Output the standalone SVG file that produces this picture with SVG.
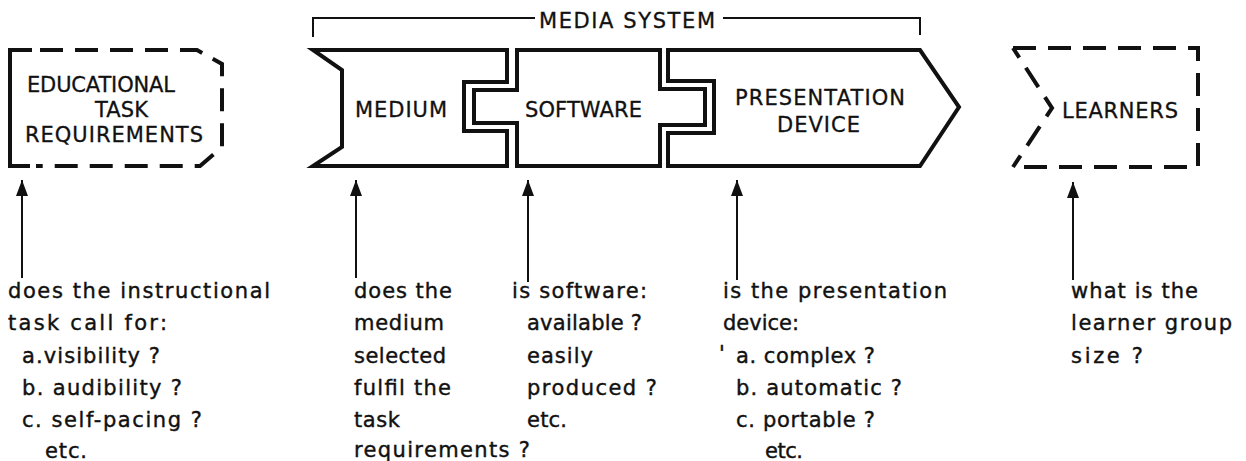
<svg xmlns="http://www.w3.org/2000/svg" width="1246" height="461" viewBox="0 0 1246 461">
<style>
.solid{fill:none;stroke:#111;stroke-width:4;stroke-linejoin:miter}
.dash{fill:none;stroke:#111;stroke-width:4;stroke-dasharray:23 12}
.thin{fill:none;stroke:#111;stroke-width:2}
.lbl{font-family:"DejaVu Sans","Liberation Sans",sans-serif;font-size:21px;fill:#111;stroke:#111;stroke-width:0.3}
.txt{font-family:"DejaVu Sans","Liberation Sans",sans-serif;font-size:21px;fill:#111;stroke:#111;stroke-width:0.4}
.arr{stroke:#111;stroke-width:2;fill:none}
</style>
<defs>
<marker id="ah" viewBox="0 0 16 12" refX="16" refY="6" markerWidth="16" markerHeight="12" markerUnits="userSpaceOnUse" orient="auto">
<path d="M0,0 L16,6 L0,12 Z" fill="#111"/>
</marker>
</defs>
<rect width="1246" height="461" fill="#fff"/>

<g id="media-system">
<path class="thin" d="M313 37 V18 H535 M723 18 H920 V35"/>
<text class="lbl" x="539" y="28" textLength="176" lengthAdjust="spacing">MEDIA SYSTEM</text>
</g>

<g id="educational">
<path class="solid" d="M32 50 H10 V166 H30"/>
<path class="dash" d="M40 50 H197 L222 64 V147 L200 166 H36"/>
<text class="lbl" x="27" y="92" textLength="148" lengthAdjust="spacing">EDUCATIONAL</text>
<text class="lbl" x="95" y="117" textLength="53" lengthAdjust="spacing">TASK</text>
<text class="lbl" x="25" y="142" textLength="178" lengthAdjust="spacing">REQUIREMENTS</text>
</g>

<g id="medium">
<path class="solid" d="M313 50 H507 V82 H464 V131 H507 V166 H313 L342 147 V70 Z"/>
<text class="lbl" x="355" y="117" textLength="92" lengthAdjust="spacing">MEDIUM</text>
</g>

<g id="software">
<path class="solid" d="M517 50 H660 V89 H705 V125 H660 V166 H517 V123 H474 V90 H517 Z"/>
<text class="lbl" x="525" y="117" textLength="117" lengthAdjust="spacing">SOFTWARE</text>
</g>

<g id="presentation">
<path class="solid" d="M668 50 H920 L959 107 L920 166 H668 V133 H714 V81 H668 Z"/>
<text class="lbl" x="735" y="105" textLength="170" lengthAdjust="spacing">PRESENTATION</text>
<text class="lbl" x="777" y="132" textLength="83" lengthAdjust="spacing">DEVICE</text>
</g>

<g id="learners">
<path class="dash" d="M1013 48 H1198 V167 H1013"/>
<path class="dash" d="M1013 167 L1052 108 L1013 48" style="stroke-dashoffset:9.3"/>
<text class="lbl" x="1062" y="118" textLength="116" lengthAdjust="spacing">LEARNERS</text>
</g>

<g id="connectors">
<line class="arr" x1="22" y1="278" x2="22" y2="180" marker-end="url(#ah)"/>
<line class="arr" x1="356" y1="278" x2="356" y2="180" marker-end="url(#ah)"/>
<line class="arr" x1="528" y1="282" x2="528" y2="180" marker-end="url(#ah)"/>
<line class="arr" x1="737" y1="280" x2="737" y2="180" marker-end="url(#ah)"/>
<line class="arr" x1="1073" y1="280" x2="1073" y2="182" marker-end="url(#ah)"/>
</g>

<g id="q-educational">
<text class="txt" x="8" y="298" textLength="262" lengthAdjust="spacing">does the instructional</text>
<text class="txt" x="8" y="330" textLength="159" lengthAdjust="spacing">task call for:</text>
<text class="txt" x="22" y="363" textLength="138" lengthAdjust="spacing">a.visibility ?</text>
<text class="txt" x="22" y="395" textLength="160" lengthAdjust="spacing">b. audibility ?</text>
<text class="txt" x="22" y="427" textLength="180" lengthAdjust="spacing">c. self-pacing ?</text>
<text class="txt" x="45" y="458" textLength="42" lengthAdjust="spacing">etc.</text>
</g>

<g id="q-medium">
<text class="txt" x="354" y="298" textLength="98" lengthAdjust="spacing">does the</text>
<text class="txt" x="354" y="330" textLength="90" lengthAdjust="spacing">medium</text>
<text class="txt" x="354" y="363" textLength="92" lengthAdjust="spacing">selected</text>
<text class="txt" x="354" y="395" textLength="97" lengthAdjust="spacing">fulfil the</text>
<text class="txt" x="354" y="427" textLength="46" lengthAdjust="spacing">task</text>
<text class="txt" x="354" y="457" textLength="176" lengthAdjust="spacing">requirements ?</text>
</g>

<g id="q-software">
<text class="txt" x="512" y="298" textLength="135" lengthAdjust="spacing">is software:</text>
<text class="txt" x="527" y="330" textLength="115" lengthAdjust="spacing">available ?</text>
<text class="txt" x="527" y="363" textLength="66" lengthAdjust="spacing">easily</text>
<text class="txt" x="527" y="395" textLength="130" lengthAdjust="spacing">produced ?</text>
<text class="txt" x="527" y="427" textLength="40" lengthAdjust="spacing">etc.</text>
</g>

<g id="q-presentation">
<text class="txt" x="723" y="298" textLength="224" lengthAdjust="spacing">is the presentation</text>
<text class="txt" x="723" y="330" textLength="76" lengthAdjust="spacing">device:</text>
<text class="txt" x="719" y="361">'</text>
<text class="txt" x="736" y="363" textLength="139" lengthAdjust="spacing">a. complex ?</text>
<text class="txt" x="736" y="395" textLength="166" lengthAdjust="spacing">b. automatic ?</text>
<text class="txt" x="736" y="427" textLength="139" lengthAdjust="spacing">c. portable ?</text>
<text class="txt" x="765" y="458" textLength="38" lengthAdjust="spacing">etc.</text>
</g>

<g id="q-learners">
<text class="txt" x="1071" y="298" textLength="127" lengthAdjust="spacing">what is the</text>
<text class="txt" x="1071" y="330" textLength="161" lengthAdjust="spacing">learner group</text>
<text class="txt" x="1071" y="363" textLength="72" lengthAdjust="spacing">size ?</text>
</g>
</svg>
